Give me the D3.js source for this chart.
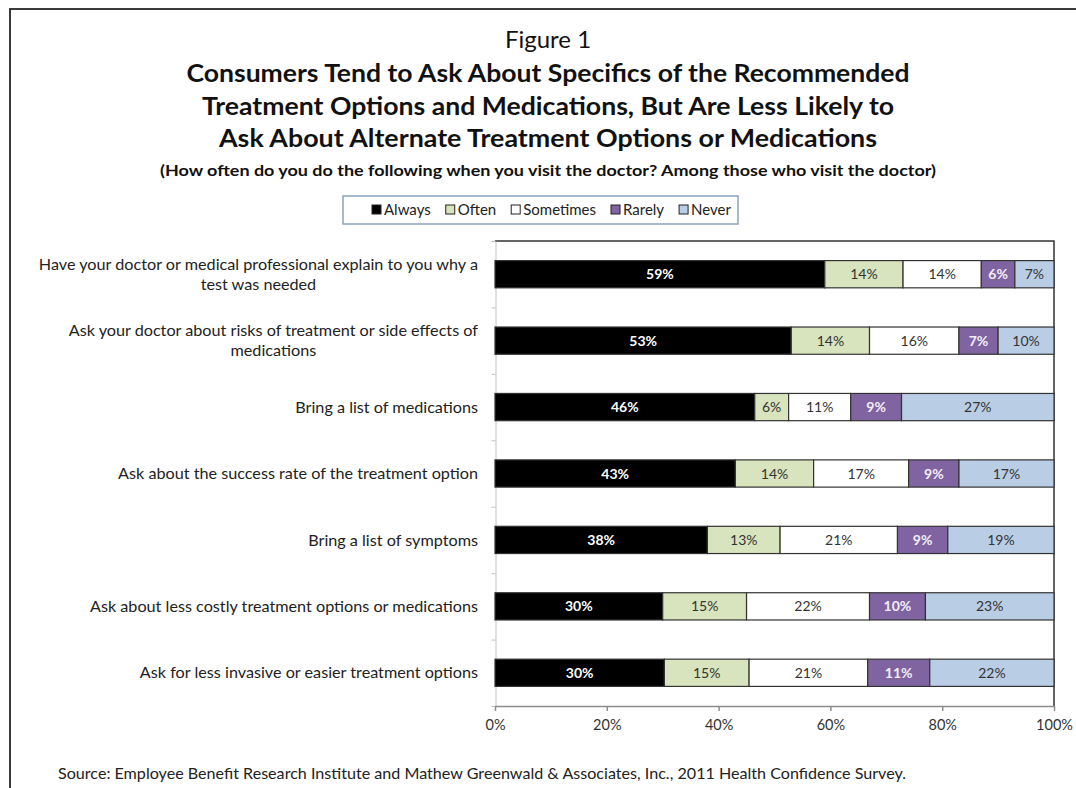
<!DOCTYPE html>
<html>
<head>
<meta charset="utf-8">
<script src="https://cdn.jsdelivr.net/npm/d3@7"></script>
<style>
  body { margin: 0; background: #fff; }
  svg { display: block; font-family: Lato, "Open Sans", sans-serif; }
</style>
</head>
<body>
<div class="layout"></div>
<script>
var categories = [
  ["Have your doctor or medical professional explain to you why a", "test was needed"],
  ["Ask your doctor about risks of treatment or side effects of", "medications"],
  ["Bring a list of medications"],
  ["Ask about the success rate of the treatment option"],
  ["Bring a list of symptoms"],
  ["Ask about less costly treatment options or medications"],
  ["Ask for less invasive or easier treatment options"]
];
var seriesNames = ["Always", "Often", "Sometimes", "Rarely", "Never"];
var always    = [59, 53, 46, 43, 38, 30, 30];
var often     = [14, 14, 6, 14, 13, 15, 15];
var sometimes = [14, 16, 11, 17, 21, 22, 21];
var rarely    = [6, 7, 9, 9, 9, 10, 11];
var never     = [7, 10, 27, 17, 19, 23, 22];
var xTicks = [0, 0.2, 0.4, 0.6, 0.8, 1];

var titleLines = [
  "Consumers Tend to Ask About Specifics of the Recommended",
  "Treatment Options and Medications, But Are Less Likely to",
  "Ask About Alternate Treatment Options or Medications"
];
var subtitle = "(How often do you do the following when you visit the doctor?  Among those who visit the doctor)";
var source = "Source: Employee Benefit Research Institute and Mathew Greenwald & Associates, Inc., 2011 Health Confidence Survey.";

var colors = ["#000000", "#d7e4bd", "#ffffff", "#8064a2", "#b9cde5"];
var labelColors = ["#ffffff", "#333333", "#333333", "#f2eef7", "#333333"];

var width = 1076, height = 788;
var plot = {left: 495, right: 1054, top: 241, bottom: 706};

var svg = d3.select(".layout").append("svg")
    .attr("width", width)
    .attr("height", height);

// outer frame (left and top edges visible)
svg.append("path")
    .attr("d", "M10," + height + "V9H" + width)
    .attr("fill", "none")
    .attr("stroke", "#3a3a3a")
    .attr("stroke-width", 2);

// titles
svg.append("text")
    .attr("x", 548).attr("y", 48)
    .attr("text-anchor", "middle")
    .style("font-size", "24px")
    .attr("fill", "#111")
    .text("Figure 1");

var titleWidths = [723, 692, 658];
titleLines.forEach(function(t, i) {
  svg.append("text")
      .attr("x", 548).attr("y", 82 + i * 32.5)
      .attr("text-anchor", "middle")
      .attr("textLength", titleWidths[i])
      .attr("lengthAdjust", "spacingAndGlyphs")
      .style("font-size", "25px")
      .style("font-weight", "bold")
      .attr("fill", "#111")
      .text(t);
});

svg.append("text")
    .attr("x", 548).attr("y", 176)
    .attr("text-anchor", "middle")
    .attr("textLength", 776)
    .attr("lengthAdjust", "spacingAndGlyphs")
    .style("font-size", "15px")
    .style("font-weight", "bold")
    .attr("fill", "#111")
    .text(subtitle);

// legend
var legend = svg.append("g").attr("class", "legend");
legend.append("rect")
    .attr("x", 343).attr("y", 196)
    .attr("width", 395).attr("height", 28)
    .attr("fill", "#fff")
    .attr("stroke", "#8aa2c0")
    .attr("stroke-width", 1.5);
var lx = 372;
seriesNames.forEach(function(name, i) {
  legend.append("rect")
      .attr("x", lx).attr("y", 205)
      .attr("width", 9).attr("height", 9)
      .attr("fill", colors[i])
      .attr("stroke", "#222");
  var t = legend.append("text")
      .attr("x", lx + 12).attr("y", 215)
      .style("font-size", "15px")
      .attr("fill", "#222")
      .text(name);
  lx += 12 + t.node().getComputedTextLength() + 15;
});

// scales
var y = d3.scaleBand()
    .domain(d3.range(categories.length))
    .range([plot.top, plot.bottom])
    .paddingInner(0.59)
    .paddingOuter(0.295);
var yEdge = d3.scaleLinear()
    .domain([0, categories.length])
    .range([plot.top, plot.bottom]);
var x = d3.scaleLinear()
    .domain([0, 1])
    .range([plot.left, plot.right]);

var rows = d3.range(categories.length).map(function(i) {
  return {i: i, Always: always[i], Often: often[i], Sometimes: sometimes[i], Rarely: rarely[i], Never: never[i]};
});
var stacked = d3.stack()
    .keys(seriesNames)
    .offset(d3.stackOffsetExpand)(rows);

// plot border (top/right)
svg.append("path")
    .attr("d", "M" + plot.left + "," + plot.top + "H" + plot.right + "V" + plot.bottom)
    .attr("fill", "none")
    .attr("stroke", "#333")
    .attr("stroke-width", 1.5);

// axes
var yAxis = d3.axisLeft(yEdge)
    .tickValues(d3.range(categories.length + 1))
    .tickFormat("")
    .tickSize(4)
    .tickSizeOuter(0);
var gy = svg.append("g")
    .attr("class", "y axis")
    .attr("transform", "translate(" + (plot.left + 0.5) + ",0)")
    .call(yAxis);
gy.selectAll("line, path").attr("stroke", "#c0c0c0");

var xAxis = d3.axisBottom(x)
    .tickValues(xTicks)
    .tickFormat(d3.format(".0%"))
    .tickSize(5)
    .tickSizeOuter(0);
var gx = svg.append("g")
    .attr("class", "x axis")
    .attr("transform", "translate(0," + plot.bottom + ")")
    .call(xAxis);
gx.selectAll("line, path").attr("stroke", "#8c8c8c").attr("stroke-width", 1.5);
gx.selectAll("text")
    .attr("dy", "1.1em")
    .style("font-size", "14.5px")
    .style("font-family", "Lato, sans-serif")
    .attr("fill", "#333");

// bars
var layers = svg.append("g").attr("class", "bars")
  .selectAll("g")
  .data(stacked)
  .enter().append("g")
    .attr("fill", function(s, k) { return colors[k]; });

layers.selectAll("rect")
  .data(function(s) { return s; })
  .enter().append("rect")
    .attr("x", function(d) { return x(d[0]); })
    .attr("y", function(d) { return y(d.data.i); })
    .attr("width", function(d) { return x(d[1]) - x(d[0]); })
    .attr("height", y.bandwidth())
    .attr("stroke", "#333")
    .attr("stroke-width", 1.2);

layers.each(function(s, k) {
  d3.select(this).selectAll("text")
    .data(s)
    .enter().append("text")
      .attr("x", function(d) { return (x(d[0]) + x(d[1])) / 2; })
      .attr("y", function(d) { return y(d.data.i) + y.bandwidth() / 2; })
      .attr("dy", "0.36em")
      .attr("text-anchor", "middle")
      .style("font-size", "14px")
      .style("font-weight", (k === 0 || k === 3) ? "bold" : "normal")
      .attr("fill", labelColors[k])
      .text(function(d) { return d.data[s.key] + "%"; });
});

// category labels: lines centred within a block whose right edge is fixed
var labelRight = 478;
categories.forEach(function(lines, i) {
  var g = svg.append("g");
  var cy = y(i) + y.bandwidth() / 2;
  var texts = lines.map(function(line, j) {
    return g.append("text")
        .attr("y", cy + (j - (lines.length - 1) / 2) * 20)
        .attr("dy", "0.35em")
        .attr("text-anchor", "middle")
        .style("font-size", "16.2px")
        .attr("fill", "#222")
        .text(line);
  });
  var w = d3.max(texts, function(t) { return t.node().getComputedTextLength(); });
  texts.forEach(function(t) { t.attr("x", labelRight - w / 2); });
});

// source
svg.append("text")
    .attr("x", 58).attr("y", 779)
    .attr("textLength", 848)
    .attr("lengthAdjust", "spacingAndGlyphs")
    .style("font-size", "15px")
    .attr("fill", "#222")
    .text(source);
</script>
</body>
</html>
